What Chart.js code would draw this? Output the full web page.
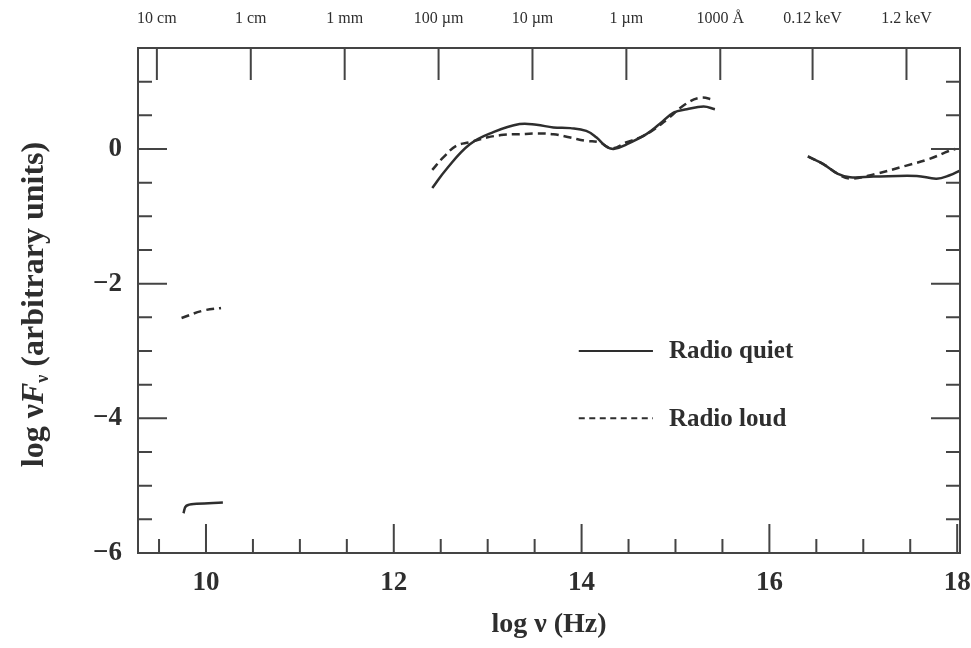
<!DOCTYPE html>
<html>
<head>
<meta charset="utf-8">
<script src="https://cdn.jsdelivr.net/npm/chart.js@4.4.0/dist/chart.umd.min.js"></script>
<style>
    html, body { margin: 0; padding: 0; background: #fff; }
    #wrap { width: 971px; height: 648px; position: relative; }
</style>
</head>
<body>
<div id="wrap"><canvas id="sed"></canvas></div>
<script>
// log nu (Hz) / log nuF_nu pairs, one pair of arrays per segment
const quietRadioNu = [9.76, 9.79, 9.90, 10.18];
const quietRadioF  = [-5.41, -5.30, -5.27, -5.25];
const quietIrNu = [12.41, 12.56, 12.81, 13.06, 13.34, 13.52, 13.70, 13.88, 14.05, 14.16, 14.25, 14.34, 14.48, 14.69, 14.83, 14.98, 15.12, 15.30, 15.42];
const quietIrF  = [-0.58, -0.30, 0.07, 0.25, 0.37, 0.36, 0.32, 0.31, 0.27, 0.17, 0.05, 0.00, 0.07, 0.22, 0.37, 0.54, 0.59, 0.63, 0.59];
const quietXrayNu = [16.41, 16.57, 16.73, 16.86, 17.11, 17.57, 17.78, 17.92, 18.03];
const quietXrayF  = [-0.11, -0.22, -0.37, -0.42, -0.41, -0.40, -0.44, -0.39, -0.32];

const loudRadioNu = [9.74, 9.97, 10.16];
const loudRadioF  = [-2.51, -2.40, -2.36];
const loudIrNu = [12.41, 12.53, 12.67, 12.81, 12.99, 13.17, 13.34, 13.52, 13.70, 13.88, 14.05, 14.19, 14.32, 14.48, 14.62, 14.76, 14.91, 15.10, 15.26, 15.42];
const loudIrF  = [-0.31, -0.12, 0.05, 0.10, 0.17, 0.21, 0.22, 0.23, 0.22, 0.17, 0.12, 0.10, 0.01, 0.10, 0.17, 0.28, 0.44, 0.66, 0.76, 0.73];
const loudXrayNu = [16.41, 16.57, 16.73, 16.86, 17.13, 17.45, 17.70, 17.91, 17.98];
const loudXrayF  = [-0.11, -0.22, -0.37, -0.44, -0.37, -0.25, -0.15, -0.03, 0.00];

// axis ticks
const xTicks = [10, 12, 14, 16, 18];
const yTicks = [-6, -4, -2, 0];
const topLabels = ['10 cm', '1 cm', '1 mm', '100 \u00b5m', '10 \u00b5m', '1 \u00b5m', '1000 \u00c5', '0.12 keV', '1.2 keV'];
const topNu = [9.477, 10.477, 11.477, 12.477, 13.477, 14.477, 15.477, 16.46, 17.46];

const SERIF = '"Liberation Serif", "DejaVu Serif", serif';
const INK = '#2e2e2e';

function segments(...pairs) {
    const pts = [];
    for (let k = 0; k < pairs.length; k += 2) {
        const nu = pairs[k], f = pairs[k + 1];
        nu.forEach((x, i) => pts.push({ x: x, y: f[i] }));
        pts.push({ x: nu[nu.length - 1], y: null }); // break between bands
    }
    return pts;
}

// frame plus inward tick marks, placed through the chart's own scales
const frameTicks = {
    id: 'frameTicks',
    afterDatasetsDraw(chart) {
        const { ctx, chartArea: a, scales } = chart;
        const x = scales.x, y = scales.y;
        ctx.save();
        ctx.strokeStyle = '#444';
        ctx.lineWidth = 2;
        ctx.strokeRect(a.left, a.top, a.right - a.left, a.bottom - a.top);
        ctx.beginPath();
        for (let v = 9.5; v <= 18.001; v += 0.5) {
            const px = x.getPixelForValue(v);
            const len = Math.abs(v % 2) < 1e-6 ? 29 : 14;
            ctx.moveTo(px, a.bottom);
            ctx.lineTo(px, a.bottom - len);
        }
        for (let v = -5.5; v <= 1.001; v += 0.5) {
            const py = y.getPixelForValue(v);
            const len = Math.abs(v % 2) < 1e-6 ? 29 : 14;
            ctx.moveTo(a.left, py);
            ctx.lineTo(a.left + len, py);
            ctx.moveTo(a.right, py);
            ctx.lineTo(a.right - len, py);
        }
        topNu.forEach(v => {
            const px = x.getPixelForValue(v);
            ctx.moveTo(px, a.top);
            ctx.lineTo(px, a.top + 32);
        });
        ctx.stroke();
        ctx.restore();
    }
};

// y title with italic F and subscript nu
const yTitle = {
    id: 'yTitle',
    afterDraw(chart) {
        const { ctx, chartArea: a } = chart;
        const parts = [
            { t: 'log \u03bd', f: 'bold 32px ' + SERIF, dy: 0 },
            { t: 'F', f: 'italic bold 32px ' + SERIF, dy: 0 },
            { t: '\u03bd', f: 'bold 18px ' + SERIF, dy: 8 },
            { t: ' (arbitrary units)', f: 'bold 32px ' + SERIF, dy: 0 }
        ];
        ctx.save();
        let total = 0;
        parts.forEach(p => { ctx.font = p.f; p.w = ctx.measureText(p.t).width; total += p.w; });
        ctx.translate(35, (a.top + a.bottom) / 2 + 4);
        ctx.rotate(-Math.PI / 2);
        ctx.fillStyle = INK;
        ctx.textBaseline = 'middle';
        let cx = -total / 2;
        parts.forEach(p => {
            ctx.font = p.f;
            ctx.fillText(p.t, cx, p.dy);
            cx += p.w;
        });
        ctx.restore();
    }
};

// legend inside the plot, anchored in data coordinates
const insideLegend = {
    id: 'insideLegend',
    afterDraw(chart) {
        const { ctx, scales } = chart;
        const x = scales.x, y = scales.y;
        const rows = [-3, -4];
        ctx.save();
        chart.data.datasets.forEach((ds, i) => {
            const py = y.getPixelForValue(rows[i]);
            ctx.strokeStyle = ds.borderColor;
            ctx.lineWidth = 2;
            ctx.setLineDash(i === 0 ? [] : [6, 4.5]);
            ctx.beginPath();
            ctx.moveTo(x.getPixelForValue(13.97), py);
            ctx.lineTo(x.getPixelForValue(14.76), py);
            ctx.stroke();
            ctx.setLineDash([]);
            ctx.fillStyle = INK;
            ctx.font = 'bold 25px ' + SERIF;
            ctx.textBaseline = 'middle';
            ctx.fillText(ds.label, x.getPixelForValue(14.93), py + 1);
        });
        ctx.restore();
    }
};

function noSidePadding(s) {
    s.paddingLeft = 0;
    s.paddingRight = 0;
}

new Chart(document.getElementById('sed').getContext('2d'), {
    type: 'line',
    data: {
        datasets: [
            {
                label: 'Radio quiet',
                data: segments(quietRadioNu, quietRadioF, quietIrNu, quietIrF, quietXrayNu, quietXrayF),
                borderColor: INK,
                borderWidth: 2.5,
                pointRadius: 0,
                tension: 0.4,
                spanGaps: false
            },
            {
                label: 'Radio loud',
                data: segments(loudRadioNu, loudRadioF, loudIrNu, loudIrF, loudXrayNu, loudXrayF),
                borderColor: INK,
                borderWidth: 2.5,
                borderDash: [8, 5],
                pointRadius: 0,
                tension: 0.4,
                spanGaps: false
            }
        ]
    },
    options: {
        responsive: true,
        maintainAspectRatio: false,
        animation: false,
        layout: { padding: { left: 0, right: 11, top: 0, bottom: 0 } },
        plugins: {
            legend: { display: false },
            tooltip: { enabled: false }
        },
        scales: {
            x: {
                type: 'linear',
                position: 'bottom',
                min: 9.276,
                max: 18.03,
                grid: { display: false, drawTicks: false },
                border: { display: false },
                afterBuildTicks: s => { s.ticks = xTicks.map(v => ({ value: v })); },
                afterFit: s => { s.height = 95; noSidePadding(s); },
                ticks: {
                    padding: 14,
                    autoSkip: false,
                    maxRotation: 0,
                    color: INK,
                    font: { family: SERIF, size: 27, weight: 'bold' }
                },
                title: {
                    display: true,
                    text: 'log \u03bd (Hz)',
                    color: INK,
                    font: { family: SERIF, size: 28, weight: 'bold' },
                    padding: { top: 0, bottom: 6 }
                }
            },
            xTop: {
                type: 'linear',
                position: 'top',
                min: 9.276,
                max: 18.03,
                grid: { display: false, drawTicks: false },
                border: { display: false },
                afterBuildTicks: s => { s.ticks = topNu.map(v => ({ value: v })); },
                afterFit: s => { s.height = 48; noSidePadding(s); },
                ticks: {
                    padding: 20,
                    autoSkip: false,
                    maxRotation: 0,
                    color: INK,
                    font: { family: SERIF, size: 16 },
                    callback: (v, i) => topLabels[i]
                }
            },
            y: {
                type: 'linear',
                min: -6,
                max: 1.5,
                grid: { display: false, drawTicks: false },
                border: { display: false },
                afterBuildTicks: s => { s.ticks = yTicks.map(v => ({ value: v })); },
                afterFit: s => { s.width = 138; },
                ticks: {
                    padding: 16,
                    color: INK,
                    font: { family: SERIF, size: 27, weight: 'bold' },
                    callback: v => (v < 0 ? '\u2212' + Math.abs(v) : String(v))
                }
            }
        }
    },
    plugins: [frameTicks, yTitle, insideLegend]
});
</script>
</body>
</html>
